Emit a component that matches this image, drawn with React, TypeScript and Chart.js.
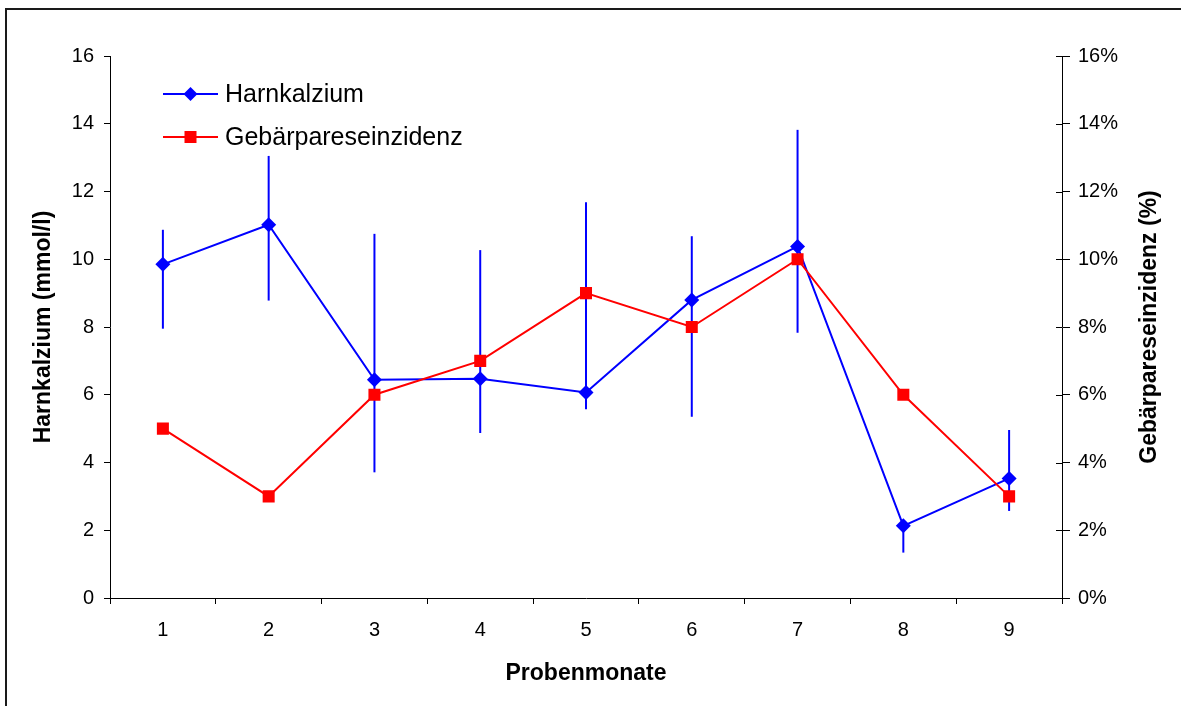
import React, { useEffect, useRef } from "react";
import { Chart, registerables } from "chart.js";

Chart.register(...registerables);

const categories = ["1", "2", "3", "4", "5", "6", "7", "8", "9"];
const harnkalzium = [9.85, 11.02, 6.44, 6.47, 6.07, 8.8, 10.38, 2.13, 3.53];
const harnkalziumUpper = [10.87, 13.05, 10.75, 10.27, 11.68, 10.68, 13.82, 2.2, 4.96];
const harnkalziumLower = [7.95, 8.78, 3.71, 4.87, 5.57, 5.35, 7.83, 1.34, 2.57];
const gebaerparese = [5, 3, 6, 7, 9, 8, 10, 6, 3];
const leftTicks = [0, 2, 4, 6, 8, 10, 12, 14, 16];

const FONT = "'Liberation Sans', Arial, Helvetica, sans-serif";
const BLUE = "#0000FF";
const RED = "#FF0000";

const errorBarPlugin = {
  id: "errorBars",
  afterDatasetDraw(chart: any, args: any) {
    if (args.index !== 0) return;
    const ctx = chart.ctx;
    const x = chart.scales.x;
    const y = chart.scales.y;
    ctx.save();
    ctx.strokeStyle = BLUE;
    ctx.lineWidth = 2;
    for (let i = 0; i < categories.length; i++) {
      const px = x.getPixelForValue(i);
      ctx.beginPath();
      ctx.moveTo(px, y.getPixelForValue(harnkalziumUpper[i]));
      ctx.lineTo(px, y.getPixelForValue(harnkalziumLower[i]));
      ctx.stroke();
    }
    ctx.restore();
  },
};

const decorPlugin = {
  id: "decor",
  afterDraw(chart: any) {
    const ctx = chart.ctx;
    const area = chart.chartArea;
    const y1 = chart.scales.y1;
    ctx.save();
    // inward half of right-axis ticks
    ctx.strokeStyle = "#000";
    ctx.lineWidth = 1;
    y1.ticks.forEach((t: any) => {
      const py = Math.round(y1.getPixelForValue(t.value)) + 0.5;
      ctx.beginPath();
      ctx.moveTo(area.right - 6, py);
      ctx.lineTo(area.right, py);
      ctx.stroke();
    });
    // right axis title (reads bottom to top)
    ctx.fillStyle = "#000";
    ctx.font = `bold 23px ${FONT}`;
    ctx.textAlign = "center";
    ctx.textBaseline = "middle";
    ctx.translate(1150, (area.top + area.bottom) / 2);
    ctx.rotate(-Math.PI / 2);
    ctx.fillText("Gebärpareseinzidenz (%)", 0, 0);
    ctx.restore();

    // legend
    ctx.save();
    const lx0 = area.left + 53;
    const lx1 = area.left + 108;
    const mx = (lx0 + lx1) / 2;
    const rows = [
      { y: area.top + 38, color: BLUE, label: chart.data.datasets[0].label, shape: "diamond" },
      { y: area.top + 81, color: RED, label: chart.data.datasets[1].label, shape: "square" },
    ];
    rows.forEach((r) => {
      ctx.strokeStyle = r.color;
      ctx.fillStyle = r.color;
      ctx.lineWidth = 2;
      ctx.beginPath();
      ctx.moveTo(lx0, r.y);
      ctx.lineTo(lx1, r.y);
      ctx.stroke();
      ctx.beginPath();
      if (r.shape === "diamond") {
        ctx.moveTo(mx, r.y - 7);
        ctx.lineTo(mx + 7, r.y);
        ctx.lineTo(mx, r.y + 7);
        ctx.lineTo(mx - 7, r.y);
        ctx.closePath();
      } else {
        ctx.rect(mx - 6, r.y - 6, 12, 12);
      }
      ctx.fill();
      ctx.fillStyle = "#000";
      ctx.font = `25px ${FONT}`;
      ctx.textAlign = "left";
      ctx.textBaseline = "middle";
      ctx.fillText(r.label, lx1 + 7, r.y + 1);
    });
    ctx.restore();
  },
};

export default function App() {
  const ref = useRef<HTMLCanvasElement | null>(null);

  useEffect(() => {
    if (!ref.current) return;
    const chart = new Chart(ref.current, {
      type: "line",
      data: {
        labels: categories,
        datasets: [
          {
            label: "Harnkalzium",
            data: harnkalzium,
            yAxisID: "y",
            borderColor: BLUE,
            backgroundColor: BLUE,
            borderWidth: 2,
            pointStyle: "rectRot",
            pointRadius: 7.5,
            pointBorderWidth: 0,
            pointBackgroundColor: BLUE,
            tension: 0,
            order: 2,
          },
          {
            label: "Gebärpareseinzidenz",
            data: gebaerparese,
            yAxisID: "y1",
            borderColor: RED,
            backgroundColor: RED,
            borderWidth: 2,
            pointStyle: "rect",
            pointRadius: 8.5,
            pointBorderWidth: 0,
            pointBackgroundColor: RED,
            tension: 0,
            order: 1,
          },
        ],
      },
      options: {
        responsive: false,
        animation: false,
        events: [],
        layout: { padding: { top: 56, left: 0, right: 0, bottom: 0 } },
        plugins: {
          legend: { display: false },
          tooltip: { enabled: false },
        },
        scales: {
          x: {
            type: "category",
            offset: true,
            afterFit: (s: any) => {
              s.height = 108;
            },
            grid: {
              offset: true,
              drawOnChartArea: false,
              drawTicks: true,
              tickLength: 6,
              tickColor: "#000",
            },
            border: { display: true, color: "#000", width: 1 },
            ticks: {
              color: "#000",
              font: { family: FONT, size: 20 },
              padding: 14,
              maxRotation: 0,
            },
            title: {
              display: true,
              text: "Probenmonate",
              color: "#000",
              font: { family: FONT, size: 23, weight: "bold" },
              padding: { top: 0, bottom: 19 },
            },
          },
          y: {
            position: "left",
            min: 0,
            max: 16,
            afterFit: (s: any) => {
              s.width = 110;
            },
            afterBuildTicks: (s: any) => {
              s.ticks = leftTicks.map((v) => ({ value: v }));
            },
            grid: {
              drawOnChartArea: false,
              drawTicks: true,
              tickLength: 6,
              tickColor: "#000",
            },
            border: { display: true, color: "#000", width: 1 },
            ticks: {
              color: "#000",
              font: { family: FONT, size: 20 },
              padding: 10,
            },
            title: {
              display: true,
              text: "Harnkalzium (mmol/l)",
              color: "#000",
              font: { family: FONT, size: 23, weight: "bold" },
              padding: { top: 30, bottom: 0 },
            },
          },
          y1: {
            position: "right",
            min: 0,
            max: 16,
            afterFit: (s: any) => {
              s.width = 119;
            },
            afterBuildTicks: (s: any) => {
              s.ticks = leftTicks.map((v) => ({ value: v }));
            },
            grid: {
              drawOnChartArea: false,
              drawTicks: true,
              tickLength: 8,
              tickColor: "#000",
            },
            border: { display: true, color: "#000", width: 1 },
            ticks: {
              color: "#000",
              font: { family: FONT, size: 20 },
              padding: 8,
              callback: (v: any) => `${v}%`,
            },
          },
        },
      },
      plugins: [errorBarPlugin, decorPlugin],
    });
    return () => chart.destroy();
  }, []);

  return (
    <div
      style={{
        position: "fixed",
        left: 0,
        top: 0,
        width: 1181,
        height: 706,
        background: "#fff",
        overflow: "hidden",
      }}
    >
      <canvas ref={ref} width={1181} height={706} style={{ display: "block" }} />
      <div
        style={{
          position: "absolute",
          left: 5,
          top: 8,
          right: 0,
          bottom: 0,
          borderLeft: "2px solid #1a1a1a",
          borderTop: "2px solid #1a1a1a",
          pointerEvents: "none",
        }}
      />
    </div>
  );
}
